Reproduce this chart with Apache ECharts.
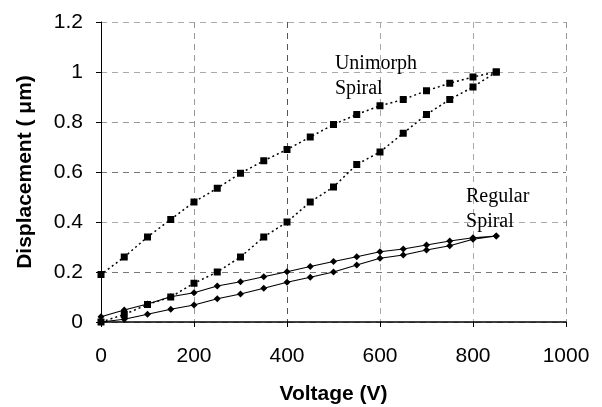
<!DOCTYPE html>
<html>
<head>
<meta charset="utf-8">
<script src="https://cdn.jsdelivr.net/npm/echarts@6/dist/echarts.min.js"></script>
<style>
  html, body { margin: 0; padding: 0; background: #fff; }
  #chart { width: 602px; height: 407px; }
</style>
</head>
<body>
<div id="chart"></div>
<script>
// Voltage steps (V)
const voltage = [0, 50, 100, 150, 200, 250, 300, 350, 400, 450, 500, 550, 600, 650, 700, 750, 800, 850];

// Unimorph spiral: rising branch (lower) and returning branch (upper), in µm
const unimorphUp   = [0, 0.03, 0.07, 0.10, 0.155, 0.20, 0.26, 0.34, 0.40, 0.48, 0.54, 0.63, 0.68, 0.755, 0.83, 0.89, 0.94, 1.0];
const unimorphDown = [0.19, 0.26, 0.34, 0.41, 0.48, 0.535, 0.595, 0.645, 0.69, 0.74, 0.79, 0.83, 0.865, 0.89, 0.925, 0.955, 0.98, 1.0];

// Regular spiral: rising branch (lower) and returning branch (upper), in µm
const regularUp   = [0, 0.011, 0.031, 0.051, 0.068, 0.093, 0.112, 0.135, 0.159, 0.179, 0.2, 0.228, 0.255, 0.268, 0.288, 0.305, 0.331, 0.344];
const regularDown = [0.021, 0.048, 0.072, 0.101, 0.117, 0.144, 0.161, 0.181, 0.201, 0.222, 0.242, 0.261, 0.281, 0.292, 0.308, 0.324, 0.337, 0.344];

// Annotation labels and their anchor points in data space
const annotations = [
  { text: 'Unimorph\nSpiral', at: [503, 1.085] },
  { text: 'Regular\nSpiral', at: [785, 0.55] }
];

const pair = (ys) => voltage.map((v, i) => [v, ys[i]]);
// loop: go out on the rising branch, come back on the returning one
const loop = (up, down) => pair(up).concat(pair(down).reverse());

const chart = echarts.init(document.getElementById('chart'), null, { renderer: 'canvas' });

const axisFont = { fontFamily: 'Liberation Sans, Arial, sans-serif', fontSize: 21, color: '#000' };
const noteLabel = {
  show: true, position: [0, 0], align: 'left', verticalAlign: 'top',
  fontFamily: 'Liberation Serif, Times New Roman, serif', fontSize: 20, color: '#000', lineHeight: 25
};

chart.setOption({
  animation: false,
  backgroundColor: '#fff',
  grid: { left: 101, right: 36, top: 22, bottom: 85, containLabel: false, outerBoundsMode: 'none' },
  xAxis: {
    type: 'value', min: 0, max: 1000, interval: 200,
    name: 'Voltage (V)', nameLocation: 'middle', nameGap: 62,
    nameTextStyle: { ...axisFont, fontWeight: 'bold' },
    axisLine: { show: true, onZero: false, lineStyle: { color: '#000', width: 1.5 } },
    axisTick: { show: true, inside: false, length: 5, lineStyle: { color: '#000' } },
    axisLabel: { ...axisFont, margin: 24, formatter: (v) => String(v) },
    splitLine: {
      show: true,
      lineStyle: { color: ['#999', '#999', '#555', '#aaa', '#aaa', '#999'], type: [6, 5], width: 1 }
    }
  },
  yAxis: {
    type: 'value', min: 0, max: 1.2, interval: 0.2,
    name: 'Displacement ( \u03bcm)', nameLocation: 'middle', nameGap: 65,
    nameTextStyle: { ...axisFont, fontWeight: 'bold' },
    axisLine: { show: true, onZero: false, lineStyle: { color: '#000', width: 1 } },
    axisTick: { show: true, inside: false, length: 5, lineStyle: { color: '#000' } },
    axisLabel: { ...axisFont, margin: 18, formatter: (v) => String(+v.toFixed(1)) },
    splitLine: {
      show: true,
      lineStyle: { color: ['#999', '#777', '#aaa', '#777', '#999', '#aaa', '#aaa'], type: [6, 5], width: 1 }
    }
  },
  series: [
    {
      name: 'Unimorph Spiral', type: 'line', data: loop(unimorphUp, unimorphDown),
      symbol: 'rect', symbolSize: 7,
      itemStyle: { color: '#000' },
      lineStyle: { color: '#000', width: 1.5, type: [2, 3] },
      z: 3,
      markPoint: {
        symbol: 'circle', symbolSize: 0, label: noteLabel,
        data: [{ coord: annotations[0].at, label: { formatter: annotations[0].text } }]
      }
    },
    {
      name: 'Regular Spiral', type: 'line', data: loop(regularUp, regularDown),
      symbol: 'diamond', symbolSize: 7,
      itemStyle: { color: '#000' },
      lineStyle: { color: '#000', width: 1.2 },
      z: 4,
      markPoint: {
        symbol: 'circle', symbolSize: 0, label: noteLabel,
        data: [{ coord: annotations[1].at, label: { formatter: annotations[1].text } }]
      }
    }
  ]
});
</script>
</body>
</html>
